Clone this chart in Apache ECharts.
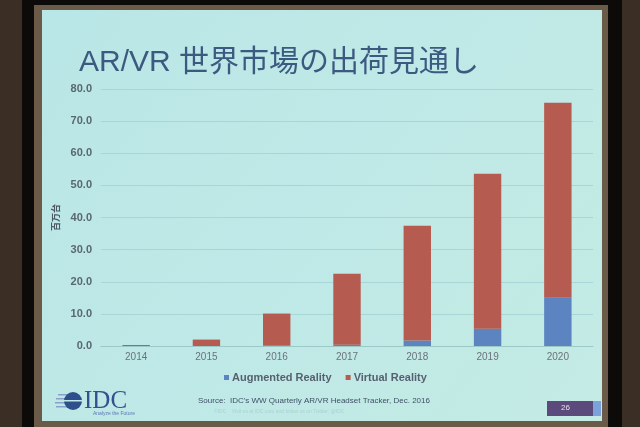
<!DOCTYPE html>
<html>
<head>
<meta charset="utf-8">
<style>
  html, body { margin: 0; padding: 0; background: #2b231c; }
  #main { width: 640px; height: 427px; }
</style>
<script src="https://cdn.jsdelivr.net/npm/echarts@6/dist/echarts.min.js"></script>
</head>
<body>
<div id="main"></div>
<script>
// データ（百万台）
var years = ['2014', '2015', '2016', '2017', '2018', '2019', '2020']
var arValues = [0, 0, 0.1, 0.4, 1.7, 5.4, 15.0]
var vrValues = [0.3, 2.0, 10.0, 22.1, 35.7, 48.2, 60.7]
var yTicks = [0, 10, 20, 30, 40, 50, 60, 70, 80]

var chart = echarts.init(document.getElementById('main'))

var option = {
  animation: false,
  textStyle: { fontFamily: 'Liberation Sans, Arial, Noto Sans CJK JP, sans-serif' },
  // 写真の枠とスライド背景
  graphic: [
    { type: 'rect', z: -10, shape: { x: 0, y: 0, width: 640, height: 427 }, style: { fill: '#3b2f25' } },
    { type: 'rect', z: -9, shape: { x: 22, y: 0, width: 600, height: 427 }, style: { fill: '#0d0b0a' } },
    { type: 'rect', z: -8, shape: { x: 34, y: 5, width: 574, height: 422 }, style: { fill: '#6b5a48' } },
    {
      type: 'rect', z: -7,
      shape: { x: 42, y: 10, width: 560, height: 411 },
      style: {
        fill: {
          type: 'linear', x: 0, y: 0, x2: 1, y2: 1,
          colorStops: [
            { offset: 0, color: '#b9e6e6' },
            { offset: 0.5, color: '#bfe9e7' },
            { offset: 1, color: '#c4ebe4' }
          ]
        }
      }
    },
    // タイトル
    {
      type: 'text', left: 79, top: 48,
      style: {
        text: 'AR/VR 世界市場の出荷見通し',
        fill: '#3c5a80',
        font: '30px "Liberation Sans", "Noto Sans CJK JP", sans-serif'
      }
    },
    // 出典
    {
      type: 'text', left: 198, top: 397,
      style: {
        text: 'Source:  IDC\'s WW Quarterly AR/VR Headset Tracker, Dec. 2016',
        fill: '#3f4f66',
        font: '8px "Liberation Sans", sans-serif'
      }
    },
    {
      type: 'text', left: 214, top: 409,
      style: {
        text: '©IDC    Visit us at IDC.com and follow us on Twitter: @IDC',
        fill: '#a8d2d0',
        font: '5px "Liberation Sans", sans-serif'
      }
    },
    // IDC ロゴ
    { type: 'rect', shape: { x: 58, y: 394, width: 14, height: 1.5 }, style: { fill: '#8aa0c8' } },
    { type: 'rect', shape: { x: 56, y: 398, width: 16, height: 1.5 }, style: { fill: '#8aa0c8' } },
    { type: 'rect', shape: { x: 55, y: 402, width: 17, height: 1.5 }, style: { fill: '#8aa0c8' } },
    { type: 'rect', shape: { x: 56, y: 406, width: 16, height: 1.5 }, style: { fill: '#8aa0c8' } },
    { type: 'circle', shape: { cx: 73, cy: 401, r: 9 }, style: { fill: '#2e4f8c' } },
    { type: 'rect', shape: { x: 64, y: 400, width: 18, height: 1.5 }, style: { fill: '#c0e8e6' } },
    {
      type: 'text', left: 84, top: 389,
      style: { text: 'IDC', fill: '#34508e', font: '25px "Liberation Serif", "DejaVu Serif", serif' }
    },
    {
      type: 'text', left: 93, top: 411,
      style: { text: 'Analyze the Future', fill: '#5a78b8', font: '5px "Liberation Sans", sans-serif' }
    },
    // ページ番号
    { type: 'rect', shape: { x: 547, y: 401, width: 46, height: 15 }, style: { fill: '#5d4a7c' } },
    { type: 'rect', shape: { x: 593, y: 401, width: 8, height: 15 }, style: { fill: '#7aa3dc' } },
    {
      type: 'text', left: 561, top: 404,
      style: { text: '26', fill: '#e6e0f0', font: '8px "Liberation Sans", sans-serif' }
    }
  ],
  legend: {
    left: 219,
    top: 367,
    itemWidth: 5,
    itemHeight: 5,
    itemGap: 14,
    icon: 'rect',
    textStyle: { color: '#566070', fontSize: 11, fontWeight: 'bold', padding: [0, 0, 0, -2] },
    data: ['Augmented Reality', 'Virtual Reality']
  },
  grid: {
    left: 101,
    right: 47,
    top: 89,
    bottom: 81,
    containLabel: false
  },
  xAxis: {
    type: 'category',
    data: years,
    axisLine: { lineStyle: { color: '#9cc8c8' } },
    axisTick: { show: false },
    axisLabel: { color: '#6a727a', fontSize: 10, margin: 6 }
  },
  yAxis: {
    type: 'value',
    min: yTicks[0],
    max: yTicks[yTicks.length - 1],
    interval: 10,
    name: '百万台',
    nameLocation: 'middle',
    nameRotate: 90,
    nameGap: 37,
    nameTextStyle: { color: '#4c5866', fontSize: 9, fontWeight: 'bold', fontFamily: 'Noto Sans CJK JP' },
    axisLine: { show: false },
    axisTick: { show: false },
    axisLabel: {
      color: '#5a6672',
      fontSize: 11,
      fontWeight: 'bold',
      margin: 9,
      formatter: function (v) { return v.toFixed(1) }
    },
    splitLine: { lineStyle: { color: '#a8d6d6' } }
  },
  series: [
    {
      name: 'Augmented Reality',
      type: 'bar',
      stack: 'total',
      barWidth: '39%',
      data: arValues,
      itemStyle: { color: '#5b84c1' }
    },
    {
      name: 'Virtual Reality',
      type: 'bar',
      stack: 'total',
      barWidth: '39%',
      data: vrValues,
      itemStyle: { color: '#b65b4f' }
    }
  ]
}

chart.setOption(option)
</script>
</body>
</html>
